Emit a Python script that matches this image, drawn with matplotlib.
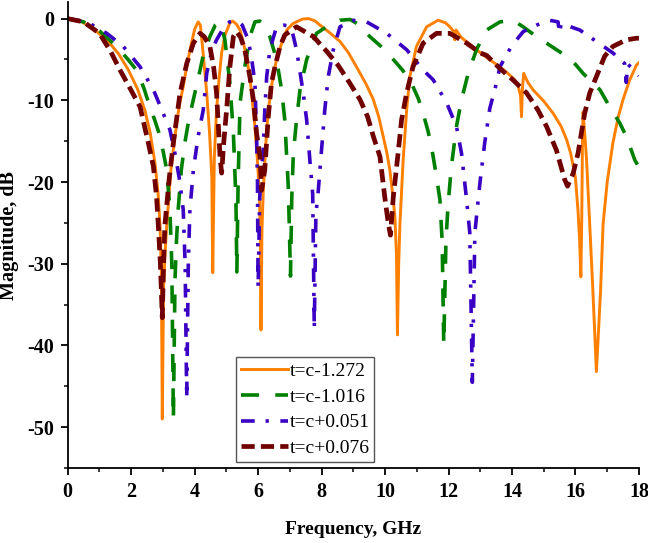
import matplotlib
matplotlib.use("Agg")
import matplotlib.pyplot as plt
from matplotlib.ticker import MultipleLocator

# t = c - 1.272 (orange, solid)
orange_f = [0, 0.4, 0.8, 1.3, 1.6, 1.9, 2.2, 2.43, 2.6, 2.75, 2.85, 2.91, 2.95, 2.98, 3.02, 3.07,
            3.12, 3.25, 3.38, 3.5, 3.64, 3.77, 3.9, 4.0, 4.11, 4.18, 4.25, 4.38, 4.47, 4.54, 4.57,
            4.62, 4.69, 4.77, 4.85, 4.95, 5.11, 5.2, 5.32, 5.43, 5.6, 5.74, 5.9, 5.98, 6.04, 6.07,
            6.09, 6.12, 6.16, 6.24, 6.32, 6.45, 6.58, 6.75, 6.9, 7.1, 7.4, 7.6, 7.8, 7.95, 8.25,
            8.58, 8.85, 9.1, 9.4, 9.63, 9.8, 9.94, 10.05, 10.15, 10.24, 10.31, 10.36, 10.39, 10.43,
            10.47, 10.57, 10.68, 10.78, 10.99, 11.31, 11.67, 11.9, 12.04, 12.15, 12.2, 12.24, 12.4,
            12.88, 13.25, 13.62, 13.9, 14.09, 14.2, 14.27, 14.3, 14.33, 14.37, 14.5, 14.66, 15.0,
            15.3, 15.55, 15.72, 15.85, 16.0, 16.08, 16.13, 16.17, 16.2, 16.22, 16.24, 16.3, 16.35,
            16.45, 16.55, 16.66, 16.79, 16.87, 17.0, 17.18, 17.35, 17.5, 17.7, 17.92, 18.0]
orange_db = [0, -0.3, -1.2, -2.9, -4.3, -6.2, -8.6, -11.2, -14.0, -17.7, -21.5, -25.4, -31, -49, -33, -28.5,
             -25.4, -18.5, -14.4, -11.0, -8.3, -5.4, -3.0, -1.3, -0.4, -0.8, -3.5, -9.1, -14.0, -19.3, -31.1,
             -17.0, -11.2, -7.3, -4.2, -2.1, -0.5, -0.3, -0.7, -1.4, -4.0, -7.1, -13.2, -17.5, -21.3, -27,
             -38.1, -26, -21.3, -15.5, -11.2, -7.6, -5.0, -2.9, -1.4, -0.6, -0.05, 0.0, -0.3, -0.8, -1.7,
             -2.8, -4.2, -5.9, -8.0, -9.9, -12.0, -14.4, -16.3, -18.5, -21.5, -24.2, -29, -38.7, -30,
             -25, -17.3, -11.2, -7.1, -3.4, -1.0, -0.2, -0.5, -1.0, -1.5, -2.6, -1.4, -2.3,
             -3.8, -4.9, -5.9, -6.8, -7.5, -8.3, -9.5, -12.0, -8.5, -6.7, -7.8, -8.7, -10.1,
             -11.6, -13.2, -14.8, -16.5, -19.5, -23.5, -27, -31.6, -24, -15, -11.4, -14.5, -17.3,
             -25.2, -33.4, -43.2, -33.4, -25.2, -20, -15.2, -12.0, -9.9, -7.6, -5.7, -5.4]

# t = c - 1.016 (green, long dash)
green_f = [0, 0.5, 1.0, 1.54, 1.9, 2.17, 2.4, 2.59, 2.75, 2.91, 3.02, 3.12, 3.22, 3.28, 3.33, 3.38,
           3.43, 3.48, 3.58, 3.69, 3.82, 3.96, 4.17, 4.27, 4.48, 4.65, 4.8, 4.95, 5.11, 5.22, 5.3,
           5.33, 5.37, 5.43, 5.58, 5.74, 5.9, 6.05, 6.16, 6.37, 6.58, 6.74, 6.84, 6.9, 6.95, 6.98,
           7.02, 7.06, 7.11, 7.21, 7.32, 7.53, 7.84, 8.16, 8.58, 8.9, 9.2, 9.52, 9.9, 10.26, 10.55,
           10.83, 11.05, 11.2, 11.35, 11.46, 11.62, 11.73, 11.8, 11.85, 11.92, 11.99, 12.09, 12.25,
           12.41, 12.62, 12.88, 13.2, 13.62, 14.03, 14.35, 14.7, 15.09, 15.4, 15.72, 16.0, 16.24,
           16.5, 16.77, 17.08, 17.4, 17.6, 17.87, 18.0]
green_db = [0, -0.4, -1.5, -3.4, -5.0, -6.3, -8.5, -10.8, -12.5, -14.4, -16.5, -18.5, -23.4, -30, -49, -32,
            -27, -23.4, -18.5, -15.2, -12.3, -9.9, -6.3, -4.5, -2.2, -0.8, -0.4, -2.5, -7.9, -14, -22,
            -31, -20, -10.3, -5.9, -2.2, -0.4, -0.3, -0.6, -2.2, -5.0, -8.7, -12.4, -16.9, -20.5, -25,
            -31.5, -22, -16.5, -12.4, -8.7, -5.0, -1.8, -1.0, -0.2, -0.1, -0.8, -2.2, -3.5, -5.0, -6.3,
            -7.9, -9.8, -11.6, -13.7, -15.6, -19.3, -22.2, -27.3, -39.9, -27, -22.6, -18.1, -13.2,
            -9.9, -6.7, -3.8, -1.4, -0.4, -0.2, -1.0, -2.0, -3.0, -3.8, -4.6, -5.6, -6.7,
            -7.7, -8.7, -10.8, -12.8, -14.4, -17.3, -18.2]

# t = c + 0.051 (blue, dash-dot)
blue_f = [0, 0.6, 1.23, 1.75, 2.28, 2.7, 3.01, 3.22, 3.38, 3.54, 3.64, 3.7, 3.75, 3.8, 3.85, 3.96,
          4.11, 4.27, 4.38, 4.55, 4.69, 4.9, 5.1, 5.32, 5.5, 5.69, 5.8, 5.9, 5.95, 5.98, 6.0, 6.05,
          6.1, 6.16, 6.21, 6.27, 6.37, 6.58, 6.8, 7.0, 7.1, 7.21, 7.32, 7.42, 7.53, 7.63, 7.72, 7.77,
          7.82, 7.89, 8.0, 8.1, 8.21, 8.37, 8.58, 9.0, 9.42, 10.05, 10.68, 11.2, 11.52, 11.94, 12.25,
          12.41, 12.57, 12.67, 12.75, 12.83, 12.99, 13.14, 13.3, 13.51, 13.62, 13.98, 14.35, 14.77,
          15.19, 15.45, 15.5, 15.55, 16.14, 16.66, 17.18, 17.55, 17.6, 17.65, 17.87, 18.0]
blue_db = [0, -0.4, -1.8, -3.4, -5.9, -8.7, -11.6, -13.6, -16.5, -20.1, -23.4, -30, -46.5, -30, -23.4, -18.5,
           -14.4, -11.2, -6.7, -3.8, -2.6, -1.2, -0.4, -0.2, -0.8, -2.6, -5.0, -7.9, -14, -20, -33, -22,
           -19, -16, -11.2, -7.1, -3.8, -1.0, -0.8, -0.9, -2.0, -3.8, -6.5, -9.1, -12.4, -17.3, -21.5, -38,
           -24, -21.3, -16, -11.2, -7.1, -3.8, -1.0, -0.2, -0.4, -1.8, -3.8, -6.3, -7.5, -10.3, -13.2,
           -16.5, -22.2, -26.2, -44.5, -26.2, -20.1, -15.2, -11.0, -7.9, -5.9, -3.4, -1.6, -0.8,
           -0.2, -0.4, -1.8, -0.6, -1.4, -2.8, -4.2, -5.5, -7.8, -5.6, -6.3, -7.0]

# t = c + 0.076 (dark red, short dash)
red_f = [0, 0.5, 1.0, 1.35, 1.65, 1.96, 2.28, 2.54, 2.7, 2.8, 2.85, 2.92, 2.98, 3.02, 3.06, 3.2,
         3.33, 3.54, 3.75, 3.96, 4.17, 4.3, 4.48, 4.6, 4.69, 4.8, 4.85, 4.92, 5.01, 5.11, 5.22, 5.32,
         5.45, 5.58, 5.74, 5.85, 5.95, 6.06, 6.11, 6.16, 6.21, 6.32, 6.42, 6.53, 6.69, 6.84, 7.21,
         7.74, 8.16, 8.52, 8.89, 9.21, 9.45, 9.63, 9.84, 9.99, 10.1, 10.17, 10.26, 10.41, 10.52,
         10.68, 10.88, 11.2, 11.62, 12.04, 12.57, 13.0, 13.2, 13.62, 14.03, 14.46, 14.82, 15.09,
         15.4, 15.66, 15.75, 15.93, 16.08, 16.29, 16.45, 16.66, 16.92, 17.18, 17.6, 17.92, 18.0]
red_db = [0, -0.4, -1.8, -4.0, -6.3, -8.5, -10.8, -15.2, -18.1, -21.8, -25, -30, -36.6, -30, -25.4, -19.5,
          -15.2, -9.1, -5.5, -3.0, -1.8, -2.2, -3.4, -6.0, -9.1, -16.9, -18.9, -15, -11, -5.9, -2.2, -1.6,
          -2.3, -3.8, -7.1, -9.9, -14, -16.9, -21, -19.8, -18.5, -12, -7.9, -5.9, -3.4, -2.0, -1.0,
          -2.2, -4.0, -5.7, -7.9, -9.9, -12, -14.4, -16.9, -21.8, -25, -26.5, -21.8, -16.5, -12.4,
          -9.1, -5.9, -3.0, -1.8, -1.8, -3.0, -4.2, -4.5, -6.1, -7.5, -9.1, -11.2, -13.2,
          -16.1, -19.7, -20.5, -18.9, -16.5, -11.6, -9.1, -7.1, -4.6, -3.4, -2.6, -2.4, -2.4]

labels = ["t=c-1.272", "t=c-1.016", "t=c+0.051", "t=c+0.076"]

plt.rcParams["font.family"] = ["Liberation Serif", "DejaVu Serif"]
plt.rcParams["axes.unicode_minus"] = False

fig = plt.figure(figsize=(6.48, 5.43), dpi=100)
ax = fig.add_axes([0.1045, 0.138, 0.8815, 0.8578])

ax.plot(orange_f, orange_db, color="#ff8000", lw=2.1, label=labels[0])
ax.plot(green_f, green_db, color="#008000", lw=2.6, dashes=(5.0, 4.5), label=labels[1])
ax.plot(blue_f, blue_db, color="#3a00c4", lw=2.6, dashes=(3.8, 3.0, 0.9, 3.2), label=labels[2])
ax.plot(red_f, red_db, color="#700000", lw=3.4, dashes=(2.8, 1.3), label=labels[3])

ax.set_xlim(0, 18)
ax.set_ylim(-55, 2)
ax.xaxis.set_major_locator(MultipleLocator(2))
ax.xaxis.set_minor_locator(MultipleLocator(1))
ax.yaxis.set_major_locator(MultipleLocator(10))
ax.yaxis.set_minor_locator(MultipleLocator(5))

for side in ["top", "right"]:
    ax.spines[side].set_visible(False)
for side in ["left", "bottom"]:
    ax.spines[side].set_linewidth(1.3)

ax.tick_params(which="major", direction="out", length=5, width=1.3, labelsize=14.5, pad=5)
ax.tick_params(which="minor", direction="out", length=3, width=1.1)
for lbl in ax.get_xticklabels() + ax.get_yticklabels():
    lbl.set_fontweight("bold")

ax.set_xlabel("Frequency, GHz", fontsize=14, fontweight="bold", labelpad=14)
ax.set_ylabel("Magnitude, dB", fontsize=14.5, fontweight="bold", labelpad=6)

# legend box sits just above the x axis, left of centre
leg = ax.legend(loc="lower left", bbox_to_anchor=(0.2946, 0.0129), borderaxespad=0,
                fontsize=14, handlelength=2.4, handletextpad=0.1, labelspacing=0.42,
                borderpad=0.25, fancybox=False, framealpha=1)
leg.get_frame().set_edgecolor("#555555")
leg.get_frame().set_linewidth(1.0)

plt.savefig("out.png", dpi=100)
